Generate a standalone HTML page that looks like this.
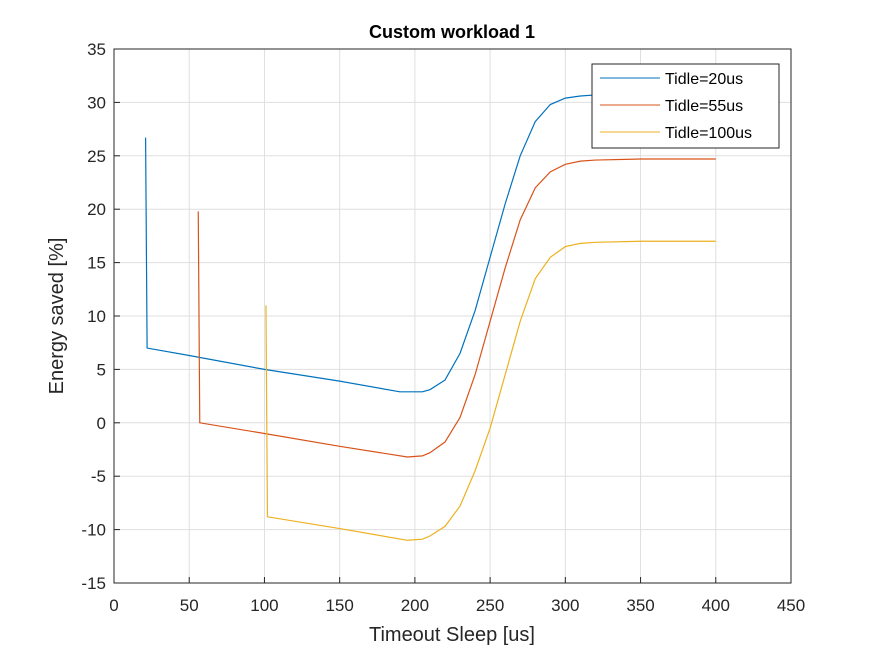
<!DOCTYPE html>
<html><head><meta charset="utf-8"><style>
body{margin:0;background:#fff;}
svg{font-family:"Liberation Sans",Arial,sans-serif;}
</style></head><body>
<svg id="chart" width="875" height="656" viewBox="0 0 875 656">
<rect x="0" y="0" width="875" height="656" fill="#fff"/>
<g id="grid"></g>
<g id="ticks"></g>
<g id="series"></g>
<rect x="114" y="49" width="677" height="534" fill="none" stroke="#262626" stroke-width="1"/>
<text x="452" y="38" text-anchor="middle" font-size="18" font-weight="bold" fill="#000">Custom workload 1</text>
<text x="452" y="641" text-anchor="middle" font-size="20" fill="#262626">Timeout Sleep [us]</text>
<text transform="translate(63,316) rotate(-90)" text-anchor="middle" font-size="20" fill="#262626">Energy saved [%]</text>
<g>
<rect x="592" y="64" width="187" height="84" fill="#fff" stroke="#262626" stroke-width="1"/>
<g><line x1="600" y1="78" x2="660" y2="78" stroke="#0072BD"/><text x="665" y="84" font-size="16" fill="#000">Tidle=20us</text></g>
<g><line x1="600" y1="105" x2="660" y2="105" stroke="#D95319"/><text x="665" y="111" font-size="16" fill="#000">Tidle=55us</text></g>
<g><line x1="600" y1="132" x2="660" y2="132" stroke="#EDB120"/><text x="665" y="138" font-size="16" fill="#000">Tidle=100us</text></g>
</g>
</svg>
<script>
const xTicks=[0,50,100,150,200,250,300,350,400,450];
const yTicks=[-15,-10,-5,0,5,10,15,20,25,30,35];
const x20=[21,22,50,100,150,190,205,210,220,230,240,250,260,270,280,290,300,310,320,330,350,400];
const y20=[26.7,7,6.3,5,3.9,2.9,2.9,3.1,4.0,6.5,10.5,15.5,20.5,25,28.2,29.8,30.4,30.6,30.7,30.8,30.8,30.8];
const x55=[56,57,100,150,195,205,210,220,230,240,250,260,270,280,290,300,310,320,350,400];
const y55=[19.8,0,-1,-2.2,-3.2,-3.1,-2.8,-1.8,0.5,4.5,9.5,14.5,19,22,23.5,24.2,24.5,24.6,24.7,24.7];
const x100=[101,102,150,195,205,210,220,230,240,250,260,270,280,290,300,310,320,350,400];
const y100=[11,-8.8,-9.9,-11,-10.9,-10.6,-9.7,-7.8,-4.5,-0.5,4.5,9.5,13.5,15.5,16.5,16.8,16.9,17,17];
const X=v=>114+(v-0)*677/450;
const Y=v=>583-(v+15)*534/50;
const NS="http://www.w3.org/2000/svg";
const grid=document.getElementById('grid'),ticks=document.getElementById('ticks'),series=document.getElementById('series');
function mk(t,a,p){const e=document.createElementNS(NS,t);for(const k in a)e.setAttribute(k,a[k]);p.appendChild(e);return e;}
xTicks.forEach(t=>{
 const g=mk('line',{x1:X(t),x2:X(t),y1:49,y2:583,stroke:'#dfdfdf','stroke-width':1},grid);
 
 
 const tk=mk('line',{x1:X(t),x2:X(t),y1:583,y2:577,stroke:'#262626'},ticks);
 
 
 const l=mk('text',{x:X(t),y:611,'text-anchor':'middle','font-size':17,fill:'#262626'},ticks);l.textContent=t;
 
 
});
yTicks.forEach(t=>{
 const g=mk('line',{x1:114,x2:791,y1:Y(t),y2:Y(t),stroke:'#dfdfdf','stroke-width':1},grid);
 
 
 const tk=mk('line',{x1:114,x2:120,y1:Y(t),y2:Y(t),stroke:'#262626'},ticks);
 
 
 const l=mk('text',{x:106,y:Y(t)+6,'text-anchor':'end','font-size':17,fill:'#262626'},ticks);l.textContent=t;
 
 
});
[[x20,y20,'#0072BD','series-20us'],[x55,y55,'#D95319','series-55us'],[x100,y100,'#EDB120','series-100us']].forEach(([xs,ys,c,n])=>{
 const p=mk('polyline',{points:xs.map((v,i)=>X(v)+','+Y(ys[i])).join(' '),fill:'none',stroke:c,'stroke-width':1.2},series);
 
 
});
</script>
</body></html>
